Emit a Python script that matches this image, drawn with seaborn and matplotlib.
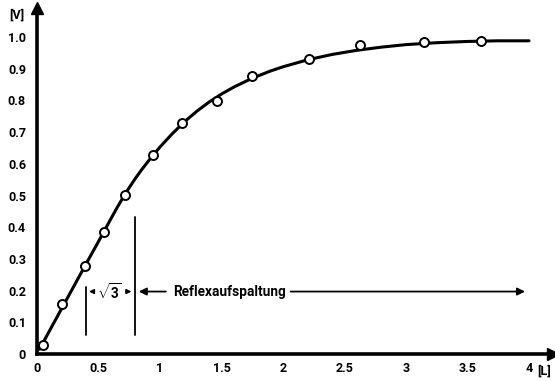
import matplotlib
matplotlib.use("Agg")
import matplotlib.pyplot as plt
import seaborn as sns
import pandas as pd

# measured points (open circles)
meas_x = [0.05, 0.205, 0.39, 0.547, 0.715, 0.946, 1.18, 1.46, 1.75, 2.21, 2.63, 3.15, 3.61]
meas_y = [0.028, 0.158, 0.278, 0.386, 0.503, 0.628, 0.729, 0.797, 0.877, 0.93, 0.976, 0.983, 0.988]

# smooth fitted curve
curve_x = [0.02, 0.1, 0.2, 0.3, 0.4, 0.5, 0.6, 0.65, 0.7, 0.75, 0.8, 0.85, 0.9, 0.95,
           1.0, 1.1, 1.2, 1.3, 1.4, 1.5, 1.6, 1.75, 1.9, 2.0, 2.2, 2.4, 2.6, 2.8,
           3.0, 3.25, 3.5, 3.75, 4.0]
curve_y = [0.015, 0.072, 0.143, 0.214, 0.285, 0.355, 0.426, 0.461, 0.494, 0.525, 0.554,
           0.581, 0.606, 0.630, 0.653, 0.695, 0.733, 0.766, 0.795, 0.820, 0.842, 0.870,
           0.893, 0.906, 0.928, 0.945, 0.958, 0.968, 0.976, 0.982, 0.986, 0.988, 0.988]

x_major = [0, 1, 2, 3, 4]
x_minor = [0.5, 1.5, 2.5, 3.5]
x_major_labels = ["0", "1", "2", "3", "4"]
x_minor_labels = ["0.5", "1.5", "2.5", "3.5"]
y_ticks = [0, 0.1, 0.2, 0.3, 0.4, 0.5, 0.6, 0.7, 0.8, 0.9, 1.0]
y_labels = ["0", "0.1", "0.2", "0.3", "0.4", "0.5", "0.6", "0.7", "0.8", "0.9", "1.0"]

sns.set_style("white")
plt.rcParams["font.family"] = ["Roboto", "DejaVu Sans"]
plt.rcParams["font.weight"] = "bold"
plt.rcParams["text.color"] = "black"
plt.rcParams["xtick.color"] = "black"
plt.rcParams["ytick.color"] = "black"
plt.rcParams["mathtext.fontset"] = "custom"
plt.rcParams["mathtext.rm"] = "Roboto:bold"
plt.rcParams["mathtext.it"] = "Roboto:bold"
plt.rcParams["mathtext.bf"] = "Roboto:bold"

FS = 9
FS_TXT = 9.8
fig = plt.figure(figsize=(5.55, 3.81), dpi=100)
W, H = 555, 381
x0, y0 = 37, 381 - 354
ux, uy = 123.0, 317.0
x_right, y_top = 553, 373
ax = fig.add_axes([x0 / W, y0 / H, (x_right - x0) / W, (y_top - y0) / H])
ax.set_xlim(0, (x_right - x0) / ux)
ax.set_ylim(0, (y_top - y0) / uy)

df_c = pd.DataFrame({"x": curve_x, "y": curve_y})
df_m = pd.DataFrame({"x": meas_x, "y": meas_y})
sns.lineplot(data=df_c, x="x", y="y", ax=ax, color="black", lw=2.2, sort=False,
             zorder=3)
sns.scatterplot(data=df_m, x="x", y="y", ax=ax, s=42, facecolor="white",
                edgecolor="black", linewidth=1.4, zorder=4)

# spines
for s in ["top", "right"]:
    ax.spines[s].set_visible(False)
for s in ["left", "bottom"]:
    ax.spines[s].set_linewidth(2.6)
    ax.spines[s].set_color("black")
ax.plot(1, 0, marker=">", color="black", ms=9, transform=ax.get_yaxis_transform(),
        clip_on=False, zorder=5)
ax.plot(0, 1, marker="^", color="black", ms=9, transform=ax.get_xaxis_transform(),
        clip_on=False, zorder=5)

ax.set_xticks(x_major)
ax.set_xticklabels(x_major_labels)
ax.set_xticks(x_minor, minor=True)
ax.set_xticklabels(x_minor_labels, minor=True)
ax.set_yticks(y_ticks)
ax.set_yticklabels(y_labels)
ax.tick_params(axis="x", which="major", direction="in", length=10, width=2,
               pad=6, labelsize=FS)
ax.tick_params(axis="x", which="minor", direction="in", length=4, width=1.5,
               pad=6, labelsize=FS)
ax.tick_params(axis="y", direction="in", length=8, width=2, pad=8, labelsize=FS)
ax.set_xlabel("")
ax.set_ylabel("")

# axis unit labels
fig.text(17 / W, 1 - 15 / H, "[V]", ha="center", va="center", fontsize=FS)
fig.text(544 / W, 1 - 371 / H, "[L]", ha="center", va="center", fontsize=FS)

# annotation lines
ax.plot([0.40, 0.40], [0.06, 0.21], color="black", lw=1.3)
ax.plot([0.797, 0.797], [0.06, 0.433], color="black", lw=1.3)
ya = 0.197
arr_small = dict(arrowstyle="-|>", color="black", lw=1.0, mutation_scale=7)
ax.annotate("", xy=(0.40, ya), xytext=(0.49, ya), arrowprops=arr_small)
ax.annotate("", xy=(0.79, ya), xytext=(0.70, ya), arrowprops=arr_small)
ax.text(0.59, ya, r"$\sqrt{3}$", ha="center", va="center", fontsize=FS_TXT)
arr_big = dict(arrowstyle="-|>", color="black", lw=1.3, mutation_scale=11)
ax.annotate("", xy=(0.805, ya), xytext=(1.07, ya), arrowprops=arr_big)
ax.text(1.105, ya, "Reflexaufspaltung", ha="left", va="center", fontsize=FS_TXT)
ax.annotate("", xy=(3.99, ya), xytext=(2.04, ya), arrowprops=arr_big)

fig.savefig("out.png", dpi=100)
